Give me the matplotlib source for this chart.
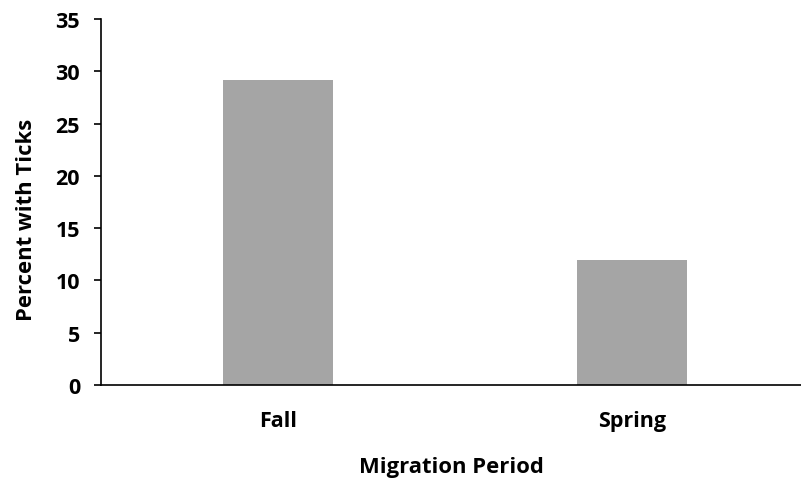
import matplotlib
matplotlib.use("Agg")
import matplotlib.pyplot as plt

categories = ["Fall", "Spring"]
values = [29.2, 12.0]
yticks = [0, 5, 10, 15, 20, 25, 30, 35]

plt.rcParams['font.family'] = ['Open Sans', 'DejaVu Sans']

fig = plt.figure(figsize=(8.01, 4.81), dpi=100)
W, H = 801, 481
ax = fig.add_axes([101 / W, (H - 386) / H, (W - 101) / W, (386 - 20) / H])

x = list(range(len(categories)))
ax.bar(x, values, width=0.31, color="#a5a5a5", zorder=2)

ax.set_xlim(-0.5, 1.5 - 8 / 354)
ax.set_ylim(0, 35)
ax.set_yticks(yticks)
ax.set_yticklabels([str(v) for v in yticks], fontsize=15.5, fontweight="bold")
ax.set_xticks(x)
ax.set_xticklabels(categories, fontsize=15.5, fontweight="bold")
ax.tick_params(axis="x", length=0, pad=18)
ax.tick_params(axis="y", length=5, width=1.2, direction="out", pad=10)

for s in ["top", "right"]:
    ax.spines[s].set_visible(False)
ax.spines["left"].set_linewidth(1.2)
ax.spines["bottom"].set_linewidth(1.2)

ax.set_xlabel("Migration Period", fontsize=15.8, fontweight="bold", labelpad=18)
ax.set_ylabel("Percent with Ticks", fontsize=15.8, fontweight="bold")
ax.yaxis.set_label_coords(-0.091, 0.454)

fig.savefig("out.png", dpi=100)
